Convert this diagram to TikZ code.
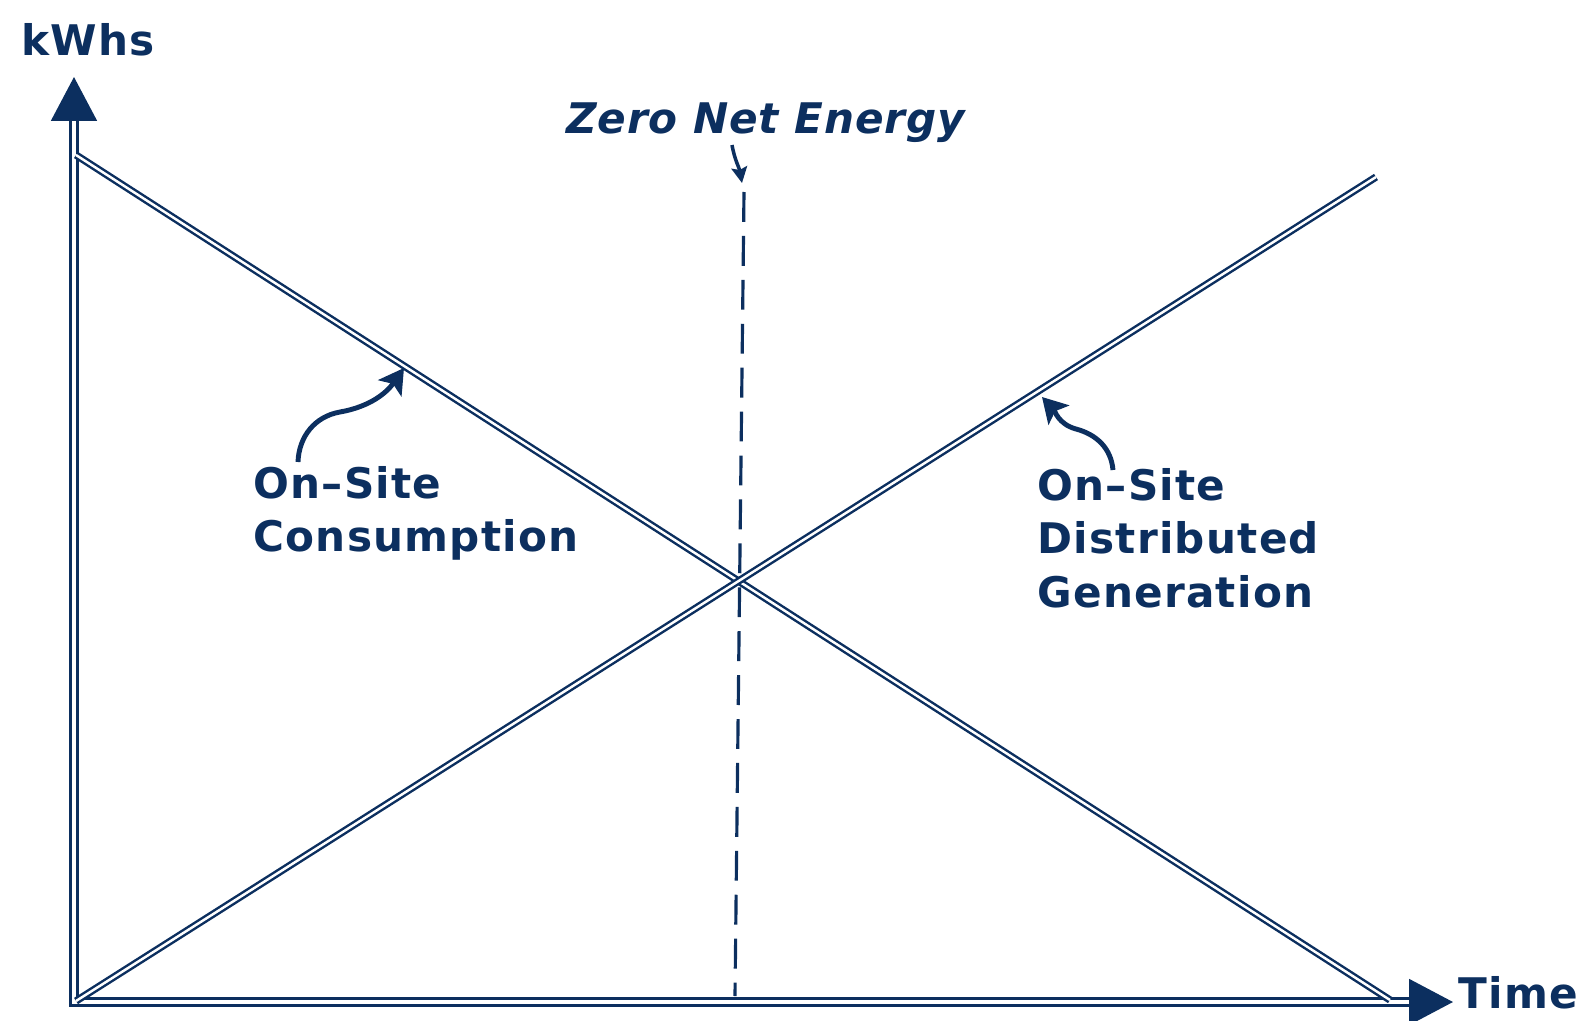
\documentclass[tikz,border=0pt]{standalone}
\usepackage{fontspec}
\setmainfont{DejaVu Sans}
\usetikzlibrary{arrows.meta}
\definecolor{zneblue}{HTML}{0C2F5F}
\tikzset{
    axis line/.style={draw=zneblue, line width=1.6pt, double=white, double distance=2pt}, % axes
    trend line/.style={draw=zneblue, line width=1.4pt, double=white, double distance=1.4pt}, % the two lines
    label text/.style={text=zneblue, font=\bfseries\fontsize{24}{30.5}\selectfont\addfontfeature{LetterSpace=3}, inner sep=0pt, align=left},
    pointer/.style={draw=zneblue, line width=2.8pt, -{Stealth[length=14pt, width=16pt, inset=3pt]}}
}

\begin{document}
\begin{tikzpicture}[x=0.02cm, y=-0.02cm]
            \useasboundingbox (0,0) rectangle (1586,1021);
            \def\ox{74} \def\oy{1002}

            \coordinate (origin) at (\ox,\oy);
            \coordinate (ytip) at (\ox,77);
            \coordinate (xtip) at (1453,\oy);
            \draw[axis line, {Triangle[width=26pt, length=25pt]}-{Triangle[width=26pt, length=25pt]}] (ytip) -- (origin) -- (xtip);

            \node[label text, anchor=base west] (kwhs) at (21,55) {kWhs};
            \node[label text, anchor=base west] (time) at (1458,1008) {Time};

            \draw[trend line] (76,155) -- (1390,1000);
            \draw[trend line] (76,1001) -- (1376,177);

            % zero net energy marker
            \node[label text, font=\bfseries\itshape\fontsize{24}{30.5}\selectfont\addfontfeature{LetterSpace=2}, anchor=base west] (zne) at (566,133) {Zero Net Energy};
            \coordinate (zneFrom) at (732,145);
            \coordinate (zneTo) at (742,183);
            \coordinate (zneTop) at (744,192);
            \coordinate (zneBot) at (735,996);
            \draw[zneblue, line width=2pt, -{Stealth[length=9pt, width=9pt, inset=1.5pt]}] (zneFrom) to[out=-80, in=100] (zneTo);
            \draw[zneblue, line width=1.8pt, dash pattern=on 17pt off 8pt] (zneTop) -- (zneBot);

            % labels of the two lines
            \node[label text, anchor=north west] (consumption) at (253,466) {On–Site\\Consumption};
            \node[label text, anchor=north west] (generation) at (1037,468) {On–Site\\Distributed\\Generation};
            \coordinate (consFrom) at (298,462);
            \coordinate (consTo) at (404,368);
            \coordinate (genFrom) at (1113,470);
            \coordinate (genTo) at (1042,397);
            \draw[pointer] (consFrom) to[out=88, in=190] (340,412) to[out=10, in=235] (consTo);
            \draw[pointer] (genFrom) to[out=95, in=-15] (1076,429) to[out=165, in=-47] (genTo);
        \end{tikzpicture}
\end{document}
